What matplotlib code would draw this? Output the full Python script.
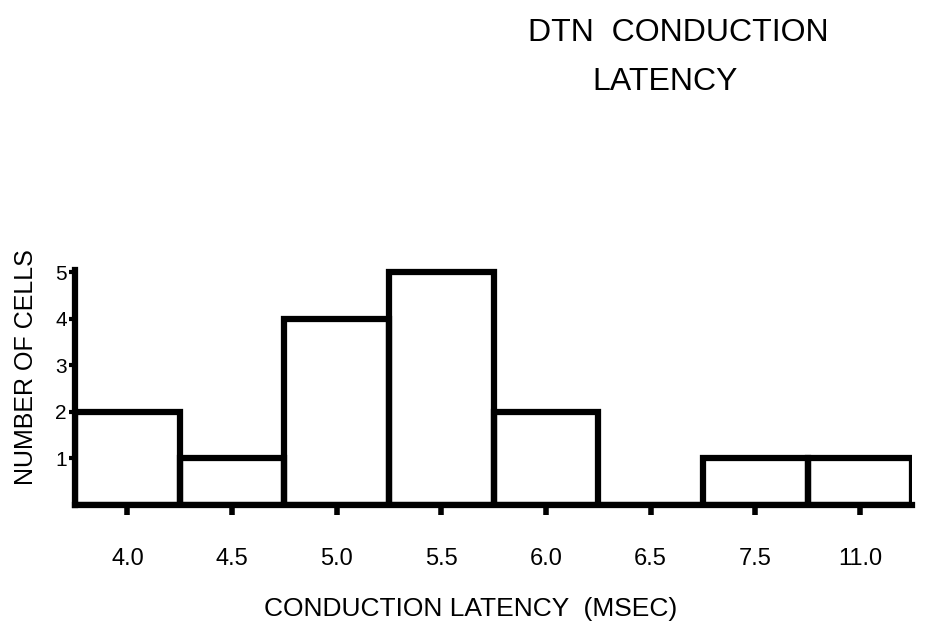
import numpy as np
import matplotlib.pyplot as plt

plt.rcParams['font.family'] = ['Liberation Sans', 'DejaVu Sans']

# Histogram data
latency_labels = ['4.0', '4.5', '5.0', '5.5', '6.0', '6.5', '7.5', '11.0']
cell_counts = [2, 1, 4, 5, 2, 0, 1, 1]
y_ticks = [1, 2, 3, 4, 5]

fig = plt.figure(figsize=(9.28, 6.44), dpi=100)
ax = fig.add_axes([0.081, 0.216, 0.902, 0.376])

x = np.arange(len(latency_labels))
ax.bar(x, cell_counts, width=1.0, fill=False, edgecolor='black', linewidth=4.5)

ax.set_xlim(-0.5, len(latency_labels) - 0.5)
ax.set_ylim(0, 5.2)
ax.spines['top'].set_visible(False)
ax.spines['right'].set_visible(False)
ax.spines['left'].set_linewidth(4.5)
ax.spines['bottom'].set_linewidth(4.5)
ax.spines['left'].set_bounds(0, 5.05)

ax.set_xticks(x)
ax.set_xticklabels(latency_labels, fontsize=17)
ax.set_yticks(y_ticks)
ax.set_yticklabels([str(v) for v in y_ticks], fontsize=15)
ax.tick_params(axis='x', direction='out', length=7, width=4, pad=24)
ax.tick_params(axis='y', direction='out', length=4, width=3, pad=2)

ax.set_xlabel('CONDUCTION LATENCY  (MSEC)', fontsize=19)
ax.xaxis.set_label_coords(0.473, -0.38)
ax.set_ylabel('NUMBER OF CELLS', fontsize=18)
ax.yaxis.set_label_coords(-0.045, 0.57)

fig.text(0.731, 0.949, 'DTN  CONDUCTION', fontsize=23, ha='center', va='center')
fig.text(0.717, 0.872, 'LATENCY', fontsize=23, ha='center', va='center')

plt.savefig('out.png', dpi=100)
